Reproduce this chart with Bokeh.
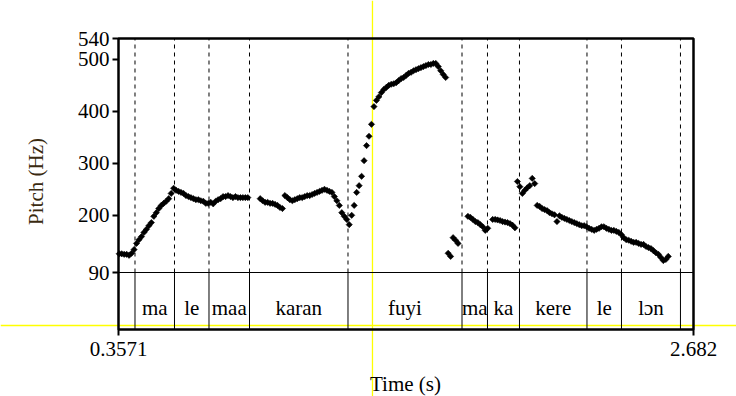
import numpy as np
from bokeh.plotting import figure
from bokeh.models import (Range1d, LinearAxis, FixedTicker, PrintfTickFormatter,
                          Span, Label)
from bokeh.core.properties import value
from bokeh.embed import file_html
from bokeh.resources import INLINE

# ---------------- data ----------------
T_START = 0.3571
T_END = 2.682
F_MIN = 90
F_MAX = 540
Y_TICKS = [90, 200, 300, 400, 500, 540]
X_TICKS = [0.3571, 2.682]

boundaries = [0.4238, 0.5835, 0.7230, 0.8868, 1.2850, 1.7460, 1.8490,
              1.9784, 2.2513, 2.3908, 2.6293]
syllables = ["", "ma", "le", "maa", "karan", "fuyi", "ma", "ka", "kere", "le", "lɔn", ""]

seg_a_t = [0.36, 0.37, 0.38, 0.39, 0.40, 0.41, 0.42, 0.43, 0.44, 0.45, 0.46, 0.47,
           0.48, 0.49, 0.50, 0.51, 0.52, 0.53, 0.54, 0.55, 0.56, 0.57, 0.58, 0.59,
           0.60, 0.61, 0.62, 0.63, 0.64, 0.65, 0.66, 0.67, 0.68, 0.69, 0.70, 0.71,
           0.72, 0.73, 0.74, 0.75, 0.76, 0.77, 0.78, 0.79, 0.80, 0.81, 0.82, 0.83,
           0.84, 0.85, 0.86, 0.87, 0.88]
seg_a_f = [126, 126, 125, 125, 123, 127, 134, 146, 153, 159, 167, 173,
           180, 186, 198, 205, 213, 219, 223, 227, 232, 242, 252, 248,
           246, 244, 242, 238, 236, 234, 232, 230, 230, 228, 227, 223,
           223, 225, 222, 227, 230, 232, 236, 236, 238, 236, 234, 236,
           234, 234, 234, 234, 234]

seg_b_t = [0.93, 0.94, 0.95, 0.96, 0.97, 0.98, 0.99, 1.00, 1.01, 1.02]
seg_b_f = [232, 228, 225, 225, 223, 223, 221, 219, 215, 213]

seg_c_t = [1.03, 1.04, 1.05, 1.06, 1.07, 1.08, 1.09, 1.10, 1.11, 1.12, 1.13, 1.14,
           1.15, 1.16, 1.17, 1.18, 1.19, 1.20, 1.21, 1.22, 1.23, 1.24, 1.25, 1.26,
           1.27, 1.28, 1.29, 1.30, 1.31, 1.32, 1.33, 1.34, 1.35, 1.36, 1.37, 1.38,
           1.39, 1.40, 1.41, 1.42, 1.43, 1.44, 1.45, 1.46, 1.47, 1.48, 1.49, 1.50,
           1.51, 1.52, 1.53, 1.54, 1.55, 1.56, 1.57, 1.58, 1.59, 1.60, 1.61, 1.62,
           1.63, 1.64, 1.65, 1.66, 1.67, 1.68]
seg_c_f = [238, 234, 230, 228, 230, 232, 234, 234, 236, 238, 238, 240,
           242, 244, 246, 248, 250, 248, 246, 244, 236, 228, 219, 205,
           198, 192, 182, 200, 219, 244, 257, 275, 305, 334, 352, 375,
           409, 421, 428, 436, 442, 446, 450, 452, 453, 455, 459, 463,
           465, 469, 473, 475, 478, 480, 482, 484, 486, 488, 490, 490,
           492, 492, 486, 478, 471, 465]

seg_d_t = [1.69, 1.70, 1.71, 1.72, 1.73]
seg_d_f = [127, 121, 157, 152, 146]

seg_e_t = [1.77, 1.78, 1.79, 1.80, 1.81, 1.82, 1.83, 1.84, 1.85]
seg_e_f = [198, 196, 192, 188, 186, 182, 178, 171, 175]

seg_f_t = [1.87, 1.88, 1.89, 1.90, 1.91, 1.92, 1.93, 1.94, 1.95, 1.96]
seg_f_f = [192, 192, 191, 190, 188, 187, 186, 184, 181, 176]

seg_g_t = [1.97, 1.98, 1.99, 2.00, 2.01, 2.02, 2.03, 2.04]
seg_g_f = [265, 255, 242, 248, 253, 257, 271, 261]

seg_h_t = [2.05, 2.06, 2.07, 2.08, 2.09, 2.10, 2.11, 2.12, 2.13, 2.14, 2.15, 2.16,
           2.17, 2.18, 2.19, 2.20, 2.21, 2.22, 2.23, 2.24, 2.25, 2.26, 2.27, 2.28,
           2.29, 2.30, 2.31, 2.32, 2.33, 2.34, 2.35, 2.36, 2.37, 2.38, 2.39, 2.40,
           2.41, 2.42, 2.43, 2.44, 2.45, 2.46, 2.47, 2.48, 2.49, 2.50, 2.51, 2.52,
           2.53, 2.54, 2.55, 2.56, 2.57, 2.58]
seg_h_f = [219, 217, 213, 211, 209, 205, 203, 201, 188, 199, 196, 194,
           192, 190, 188, 186, 184, 182, 180, 180, 178, 175, 173, 171,
           173, 175, 178, 178, 175, 173, 171, 171, 169, 167, 163, 157,
           153, 152, 150, 148, 148, 146, 144, 144, 140, 138, 136, 132,
           128, 125, 119, 113, 115, 121]

CURSOR_T = 1.384   # yellow cursor (time)

pitch_t = seg_a_t + seg_b_t + seg_c_t + seg_d_t + seg_e_t + seg_f_t + seg_g_t + seg_h_t
pitch_f = seg_a_f + seg_b_f + seg_c_f + seg_d_f + seg_e_f + seg_f_f + seg_g_f + seg_h_f

# ---------------- layout (pixels in figure) ----------------
W, H = 736, 396
PX_L, PX_R = 118, 693                   # frame left / right
PY_TOP, PY_90, PY_BOT = 38, 272, 329    # top, 90 Hz line, tier bottom
PY_CURSOR = 325
PY_TIER_TEXT = 307
FONT = "'Liberation Serif'"

sx = (PX_R - PX_L) / (T_END - T_START)
sy = (PY_90 - PY_TOP) / (F_MAX - F_MIN)


def dx(px):
    return T_START + (px - PX_L) / sx


def dy(py):
    return F_MAX - (py - PY_TOP) / sy


TIER_BOTTOM = dy(PY_BOT)

p = figure(width=W, height=H, output_backend="svg", toolbar_location=None,
           x_range=Range1d(dx(0), dx(W)), y_range=Range1d(dy(H), dy(0)),
           x_axis_type=None, y_axis_type=None, min_border=0,
           min_border_left=0, min_border_right=0, min_border_top=0, min_border_bottom=0)
p.outline_line_color = None
p.background_fill_color = "white"
p.border_fill_color = "white"

# yellow cursor lines (underneath)
p.add_layout(Span(location=CURSOR_T, dimension="height", line_color="#ffff00",
                  line_width=1.3, level="underlay"))
p.add_layout(Span(location=dy(PY_CURSOR), dimension="width", line_color="#ffff00",
                  line_width=1.3, level="underlay"))

# frame
p.quad(left=[T_START], right=[T_END], bottom=[TIER_BOTTOM], top=[F_MAX],
       fill_color=None, line_color="black", line_width=2.5)
# separator between pitch area and tier
p.segment(x0=[T_START], y0=[F_MIN], x1=[T_END], y1=[F_MIN], line_color="black", line_width=1)
# dashed boundaries in pitch area
p.segment(x0=boundaries, y0=[F_MIN] * len(boundaries), x1=boundaries,
          y1=[F_MAX] * len(boundaries), line_color="black", line_width=1, line_dash="4 4")
# solid boundaries in tier
p.segment(x0=boundaries, y0=[TIER_BOTTOM] * len(boundaries), x1=boundaries,
          y1=[F_MIN] * len(boundaries), line_color="black", line_width=1)

# tier labels
edges = [T_START] + boundaries + [T_END]
mids = [(edges[i] + edges[i + 1]) / 2 for i in range(len(edges) - 1)]
p.text(x=mids, y=[dy(PY_TIER_TEXT)] * len(mids), text=syllables,
       text_align="center", text_baseline="alphabetic",
       text_font=value(FONT), text_font_size="21px", text_color="black")

# pitch points
p.scatter(pitch_t, pitch_f, marker="square", angle=np.pi / 4, size=4.4,
          fill_color="black", line_color="black", line_width=0.6)

# axes
yaxis = LinearAxis(fixed_location=T_START, ticker=FixedTicker(ticks=Y_TICKS),
                   major_tick_out=6, major_tick_in=0, minor_tick_out=0, minor_tick_in=0,
                   axis_line_color=None, major_tick_line_width=2,
                   major_label_text_font=FONT,
                   major_label_text_font_size="21px", major_label_standoff=3,
                   major_label_text_color="black")
p.add_layout(yaxis, "left")

xaxis = LinearAxis(fixed_location=TIER_BOTTOM, ticker=FixedTicker(ticks=X_TICKS),
                   formatter=PrintfTickFormatter(format="%.4g"),
                   major_tick_out=6, major_tick_in=0, minor_tick_out=0, minor_tick_in=0,
                   axis_line_color=None, major_tick_line_width=2,
                   major_label_text_font=FONT,
                   major_label_text_font_size="21px", major_label_standoff=6,
                   major_label_text_color="black")
p.add_layout(xaxis, "below")

p.add_layout(Label(x=dx(405), y=dy(383), text="Time (s)", text_align="center",
                   text_baseline="alphabetic", text_font=FONT,
                   text_font_size="21px", text_color="black"))
p.add_layout(Label(x=dx(35), y=dy(181), text="Pitch (Hz)", angle=np.pi / 2,
                   text_align="center", text_baseline="middle",
                   text_font=FONT, text_font_size="21px",
                   text_color="#3a2a10"))

open("out.html", "w").write(file_html(p, INLINE))
